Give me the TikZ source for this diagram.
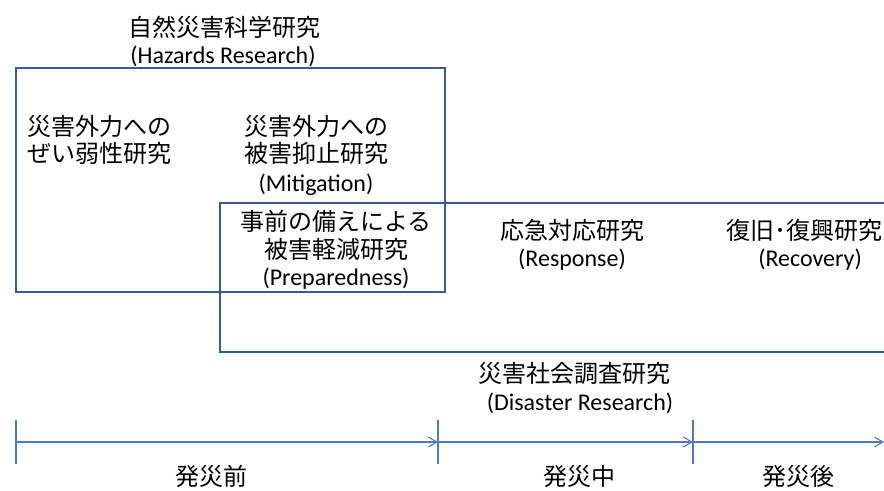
\documentclass[tikz,border=0pt]{standalone}
\usepackage{fontspec}
\setmainfont{Carlito}
\newfontfamily\jpf{Noto Sans CJK JP}
\usetikzlibrary{arrows.meta}
\definecolor{boxblue}{HTML}{385D8A}
\definecolor{lineblue}{HTML}{4A7EBB}
\begin{document}
\begin{tikzpicture}[x=0.75pt,y=-0.75pt,
  jp/.style={font=\jpf\fontsize{18}{20}\selectfont, text height=15.5pt, text depth=2.5pt, inner sep=0pt},
  en/.style={font=\fontsize{18}{20}\selectfont, text height=14pt, text depth=4pt, inner sep=0pt},
  box/.style={draw=boxblue, line width=1.8pt},
  tl/.style={draw=lineblue, line width=0.8pt},
  tick/.style={draw=lineblue, line width=0.8pt},
  tip/.style={-{Straight Barb[length=6.5pt,width=7.5pt,line width=0.8pt]}}]
\useasboundingbox (0,0) rectangle (884,490);
\fill[white] (0,0) rectangle (884,490);

% boxes
\draw[box] (16,68) rectangle (445,292);
\draw[box] (890,203) -- (220,203) -- (220,352) -- (890,352);

% hazards research
\node[jp] (title) at (224,28) {自然災害科学研究};
\node[en] (titleEn) at (223,57) {(Hazards Research)};

\node[jp,anchor=west] (vul1) at (27,127) {災害外力への};
\node[jp,anchor=west] (vul2) at (27,154) {ぜい弱性研究};

\node[jp] (mit1) at (316,127) {災害外力への};
\node[jp] (mit2) at (316,154) {被害抑止研究};
\node[en] (mitEn) at (316,185) {(Mitigation)};

\node[jp] (prep1) at (336,222) {事前の備えによる};
\node[jp] (prep2) at (336,250) {被害軽減研究};
\node[en] (prepEn) at (336,279) {(Preparedness)};

\node[jp] (resp) at (572,231) {応急対応研究};
\node[en] (respEn) at (572,260) {(Response)};

\node[jp] (rec) at (804,231) {復旧･復興研究};
\node[en] (recEn) at (810,260) {(Recovery)};

\node[jp] (soc) at (574,374) {災害社会調査研究};
\node[en] (socEn) at (580,404) {(Disaster Research)};

% timeline
\coordinate (t0) at (16,442);
\coordinate (t1) at (438,442);
\coordinate (t2) at (693,442);
\coordinate (t3) at (884,442);
\foreach \t in {t0,t1,t2} \draw[tick] ([yshift=-22*0.75pt]\t) -- ([yshift=22*0.75pt]\t);
\draw[tl,tip] (t0) -- (t1);
\draw[tl,tip] (t1) -- (t2);
\draw[tl,tip] (t2) -- (t3);

\node[jp] (pre) at (211,477) {発災前};
\node[jp] (during) at (579,477) {発災中};
\node[jp] (post) at (798,477) {発災後};
\end{tikzpicture}
\end{document}
